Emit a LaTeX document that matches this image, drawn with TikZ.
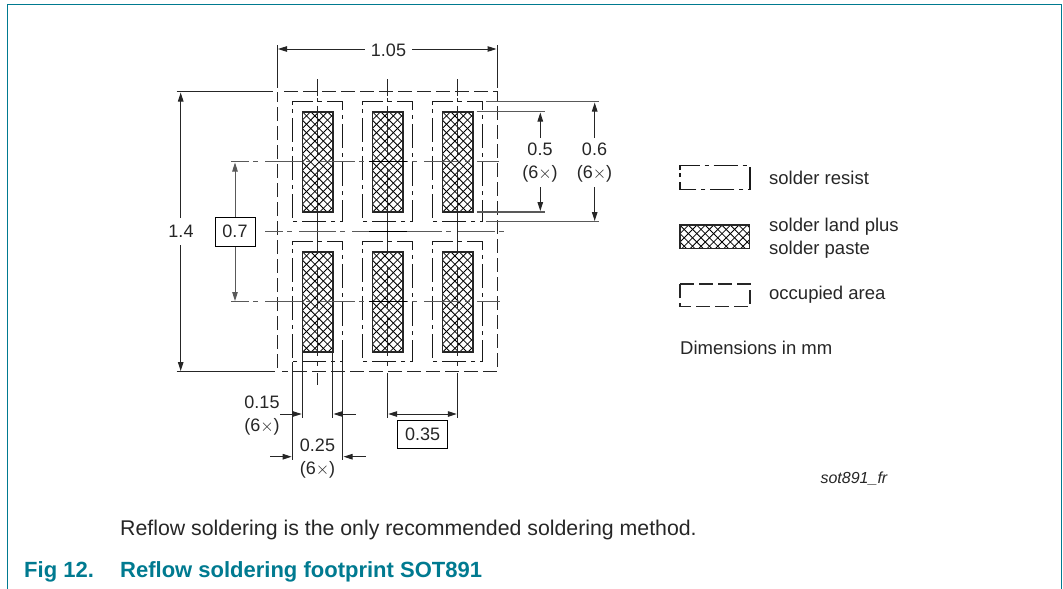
\documentclass[tikz,border=0pt]{standalone}
\usepackage{fontspec}
\setmainfont{Liberation Sans}
\usetikzlibrary{arrows.meta}
\definecolor{nxp}{HTML}{007A90}
\definecolor{cl}{gray}{0.35}
\tikzset{
  x=1pt,y=-1pt,
  lbl/.style={font=\fontsize{18}{19}\selectfont,inner sep=0pt,text=black!85},
  boxed/.style={lbl,draw=black,line width=1pt,inner sep=0pt},
  resist/.style={line width=1.3pt,dash pattern=on 24pt off 5pt on 4pt off 5pt,black!90},
  occupied/.style={line width=1.3pt,dash pattern=on 14pt off 5pt,black!85},
  thin line/.style={line width=1pt,black!85},
  centre/.style={line width=1.1pt,cl,dash pattern=on 37pt off 4pt on 5pt off 7pt,dash phase=19pt},
  heavy/.style={line width=1.5pt,black},
  dim/.style={line width=1pt,black!85,-{Triangle[length=9pt,width=5.5pt]}},
  dimtwo/.style={line width=1pt,black!85,{Triangle[length=9pt,width=5.5pt]}-{Triangle[length=9pt,width=5.5pt]}},
  landframe/.style={line width=1.6pt,black!85},
  hatchline/.style={line width=0.8pt,black}
}
\newcommand{\hatchrect}[4]{%
  \begin{scope}
    \clip (#1,#2) rectangle (#3,#4);
    \foreach \k in {-30,...,30}{
      \draw[hatchline] ({#1+\k*8.4},#2) -- ++(120,120);
      \draw[hatchline] ({#1+\k*8.4},#2) -- ++(-120,120);
    }
  \end{scope}
  \draw[landframe] (#1,#2) rectangle (#3,#4);
}
\begin{document}
\begin{tikzpicture}
\useasboundingbox (0,0) rectangle (1063,589);
% frame
\draw[nxp,line width=1.3pt] (7.3,589) -- (7.3,4.6) -- (1061.3,4.6) -- (1061.3,589);
% lands and resist
\foreach \cx in {317.5,387.5,457.5}{
  \foreach \ty in {101.7,241.7}{
    \hatchrect{\cx-15.2}{\ty+10}{\cx+15.2}{\ty+110.5}
    \draw[resist] (\cx-25.2,\ty+3) -- (\cx-25.2,\ty) -- (\cx+25.2,\ty) -- (\cx+25.2,\ty+120) -- (\cx-25.2,\ty+120) -- cycle;
  }
  % centre verticals
  \draw[thin line] (\cx,79) -- (\cx,96);
  \draw[thin line] (\cx,98) -- (\cx,102);
  \draw[thin line] (\cx,106) -- (\cx,155);
  \draw[thin line] (\cx,168) -- (\cx,212);
  \draw[thin line] (\cx,212) -- (\cx,252);
  \draw[thin line] (\cx,267) -- (\cx,308);
  \draw[thin line] (\cx,318) -- (\cx,356);
  \draw[thin line] (\cx,361) -- (\cx,366);
}
% occupied area
\draw[occupied] (284,91.7) -- (497.3,91.7) -- (497.3,371.7) -- (282,371.7);
\draw[occupied] (277.3,368) -- (277.3,91.7);
% centre lines
\draw[centre] (231,161.7) -- (499,161.7);
\draw[centre] (265,231.7) -- (510.7,231.7);
\draw[centre] (231,301.7) -- (500,301.7);
\foreach \y in {161.7,231.7,301.7}{\draw[heavy] (369,\y) -- (406.7,\y);}
% 1.05
\draw[thin line] (277.3,45) -- (277.3,88);
\draw[thin line] (497.3,45) -- (497.3,88);
\node[lbl] (w) at (388.5,50) {1.05};
\draw[dim] (w.west) ++(-6,-1) -- (278,49);
\draw[dim] (w.east) ++(6,-1) -- (496.5,49);
% 1.4
\draw[thin line] (176.7,91.7) -- (273,91.7);
\draw[thin line] (176.7,371.7) -- (275,371.7);
\node[lbl] (h) at (181,231.5) {1.4};
\draw[dim] (180.7,218) -- (180.7,92.5);
\draw[dim] (180.7,245) -- (180.7,371);
% 0.7
\node[boxed,minimum width=40pt,minimum height=28.5pt] (p) at (235,231.8) {0.7};
\draw[dim,cl] (p.north) -- (235,162.5);
\draw[dim,cl] (p.south) -- (235,301);
% 0.5
\draw[thin line,cl,line width=1.1pt] (476.7,111.7) -- (545,111.7);
\draw[thin line,cl,line width=1.1pt] (476.7,212) -- (545,212);
\node[lbl,align=center] (a) at (540,163) {0.5\\[4pt](6$\times$)};
\draw[dim] (540.3,138) -- (540.3,112.5);
\draw[dim] (540.3,187) -- (540.3,211);
% 0.6
\draw[thin line,cl,line width=1.1pt] (486,101.7) -- (599,101.7);
\draw[thin line,cl,line width=1.1pt] (486,221.7) -- (599,221.7);
\node[lbl,align=center] (b) at (594.5,163) {0.6\\[4pt](6$\times$)};
\draw[dim] (594.7,138) -- (594.7,102.5);
\draw[dim] (594.7,187) -- (594.7,221);
% lower extensions
\draw[thin line] (292.3,362) -- (292.3,460);
\draw[thin line] (342.7,362) -- (342.7,460);
\draw[thin line] (302.3,352) -- (302.3,418);
\draw[thin line] (332.7,352) -- (332.7,418);
\draw[thin line] (317.5,373) -- (317.5,385);
\draw[thin line] (387.5,362) -- (387.5,366);
\draw[thin line] (387.5,373) -- (387.5,418);
\draw[thin line] (457.5,362) -- (457.5,366);
\draw[thin line] (457.5,373) -- (457.5,418);
% 0.15
\node[lbl,align=center] (c) at (262,415.5) {0.15\\[4pt](6$\times$)};
\draw[dim] (280,414) -- (301.7,414);
\draw[dim] (355.7,414) -- (333.5,414);
% 0.25
\node[lbl,align=center] (d) at (317.5,459) {0.25\\[4pt](6$\times$)};
\draw[dim] (270,456.7) -- (291.7,456.7);
\draw[dim] (365.7,456.7) -- (343.5,456.7);
% 0.35
\draw[dimtwo] (388.2,414) -- (456.8,414);
\node[boxed,minimum width=50pt,minimum height=28pt] (e) at (422.7,434.7) {0.35};
% legend
\draw[resist] (680,170) -- (680,165.7) -- (750,165.7) -- (750,189.7) -- (680,189.7) -- cycle;
\hatchrect{680}{225.2}{749.5}{248.5}
\draw[occupied] (680,284) -- (750,284) -- (750,306.7) -- (680,306.7) -- cycle;
\node[lbl,anchor=west,font=\fontsize{18.5}{19}\selectfont] (l1) at (769,177.8) {solder resist};
\node[lbl,anchor=west,align=left,font=\fontsize{18.5}{19}\selectfont] (l2) at (769,238.3) {solder land plus\\[4pt]solder paste};
\node[lbl,anchor=west,font=\fontsize{18.5}{19}\selectfont] (l3) at (769,294.5) {occupied area};
\node[lbl,anchor=west,font=\fontsize{18.5}{19}\selectfont] (l4) at (680,348) {Dimensions in mm};
\node[lbl,anchor=east,font=\fontsize{16}{17}\selectfont\itshape] (s) at (887.5,479) {sot891\_fr};
\node[lbl,anchor=west,font=\fontsize{21.3}{24}\selectfont] (t) at (120,530) {Reflow soldering is the only recommended soldering method.};
\node[lbl,anchor=west,text=nxp,font=\fontsize{22}{24}\selectfont\bfseries] (f1) at (24,571.5) {Fig 12.};
\node[lbl,anchor=west,text=nxp,font=\fontsize{22}{24}\selectfont\bfseries] (f2) at (120,571.5) {Reflow soldering footprint SOT891};
\end{tikzpicture}
\end{document}
